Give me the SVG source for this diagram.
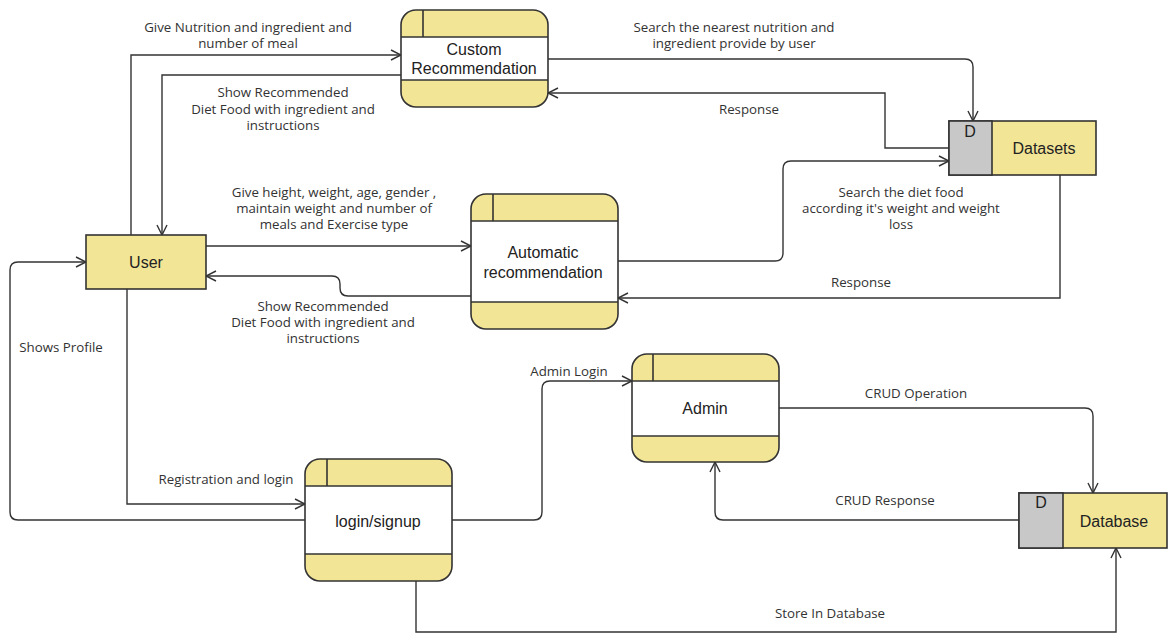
<svg xmlns="http://www.w3.org/2000/svg" width="1172" height="633" viewBox="0 0 1172 633">
<defs>
<marker id="arr" viewBox="0 0 12 12" refX="11" refY="6" markerWidth="12" markerHeight="12" markerUnits="userSpaceOnUse" orient="auto">
<path d="M1,1 L11,6 L1,11" fill="none" stroke="#333" stroke-width="1.4"/>
</marker>
<style>
.bg{fill:#F2E596;stroke:none}
.band{fill:#fff;stroke:none}
.ol{fill:none;stroke:#333;stroke-width:1.6}
.ln{stroke:#333;stroke-width:1.6}
.ent{fill:#F2E596;stroke:#333;stroke-width:1.6}
.dd{fill:#C8C8C8;stroke:#333;stroke-width:1.6}
.nt{font-family:"Liberation Sans",Arial,sans-serif;font-size:16px;fill:#222;text-anchor:middle;dominant-baseline:central}
.lb{font-family:"Open Sans","Noto Sans",sans-serif;font-size:13.3px;fill:#333;text-anchor:middle;dominant-baseline:central}
.c{fill:none;stroke:#333;stroke-width:1.4;marker-end:url(#arr)}
</style>
</defs>
<rect width="1172" height="633" fill="#fff"/>

<g id="connectors">
<path class="c" d="M131,235 V55 H401"/>
<path class="c" d="M401,75 H162 V235"/>
<path class="c" d="M548,59 H965 Q973,59 973,67 V121"/>
<path class="c" d="M949,148 H885 V93 H548"/>
<path class="c" d="M206,246 H471"/>
<path class="c" d="M471,296 H348 Q340,296 340,288 V284 Q340,276 332,276 H206"/>
<path class="c" d="M618,261 H775 Q783,261 783,253 V169 Q783,161 791,161 H949"/>
<path class="c" d="M1060,175 V298 H618"/>
<path class="c" d="M127,289 V504 H305"/>
<path class="c" d="M305,520 H18 Q10,520 10,512 V270 Q10,262 18,262 H86"/>
<path class="c" d="M452,520 H534 Q542,520 542,512 V389 Q542,381 550,381 H632"/>
<path class="c" d="M779,408 H1085 Q1093,408 1093,416 V493"/>
<path class="c" d="M1019,520 H723 Q715,520 715,512 V462"/>
<path class="c" d="M416,581 V632 H1116 V548"/>
</g>

<g id="labels">
<text class="lb" x="248" y="27">Give Nutrition and ingredient and</text>
<text class="lb" x="248" y="43">number of meal</text>
<text class="lb" x="283" y="92">Show Recommended</text>
<text class="lb" x="283" y="109">Diet Food with ingredient and</text>
<text class="lb" x="283" y="125">instructions</text>
<text class="lb" x="734" y="27">Search the nearest nutrition and</text>
<text class="lb" x="734" y="43">ingredient provide by user</text>
<text class="lb" x="749" y="109">Response</text>
<text class="lb" x="334" y="192">Give height, weight, age, gender ,</text>
<text class="lb" x="334" y="208">maintain weight and number of</text>
<text class="lb" x="334" y="224">meals and Exercise type</text>
<text class="lb" x="323" y="306">Show Recommended</text>
<text class="lb" x="323" y="322">Diet Food with ingredient and</text>
<text class="lb" x="323" y="338">instructions</text>
<text class="lb" x="901" y="192">Search the diet food</text>
<text class="lb" x="901" y="208">according it's weight and weight</text>
<text class="lb" x="901" y="224">loss</text>
<text class="lb" x="861" y="282">Response</text>
<text class="lb" x="61" y="347">Shows Profile</text>
<text class="lb" x="226" y="479">Registration and login</text>
<text class="lb" x="569" y="371">Admin Login</text>
<text class="lb" x="916" y="393">CRUD Operation</text>
<text class="lb" x="885" y="500">CRUD Response</text>
<text class="lb" x="830" y="613">Store In Database</text>
</g>

<g id="custom-recommendation">
<rect class="bg" x="401" y="10" width="147" height="97" rx="15"/>
<rect class="band" x="401" y="37" width="147" height="43"/>
<rect class="ol" x="401" y="10" width="147" height="97" rx="15"/>
<line class="ln" x1="401" y1="37" x2="548" y2="37"/>
<line class="ln" x1="401" y1="80" x2="548" y2="80"/>
<line class="ln" x1="423" y1="10" x2="423" y2="37"/>
<text class="nt" x="474" y="49">Custom</text>
<text class="nt" x="474" y="68">Recommendation</text>
</g>

<g id="automatic-recommendation">
<rect class="bg" x="471" y="194" width="147" height="135" rx="15"/>
<rect class="band" x="471" y="221" width="147" height="81"/>
<rect class="ol" x="471" y="194" width="147" height="135" rx="15"/>
<line class="ln" x1="471" y1="221" x2="618" y2="221"/>
<line class="ln" x1="471" y1="302" x2="618" y2="302"/>
<line class="ln" x1="493" y1="194" x2="493" y2="221"/>
<text class="nt" x="543" y="252">Automatic</text>
<text class="nt" x="543" y="272">recommendation</text>
</g>

<g id="login-signup">
<rect class="bg" x="305" y="459" width="147" height="122" rx="15"/>
<rect class="band" x="305" y="486" width="147" height="68"/>
<rect class="ol" x="305" y="459" width="147" height="122" rx="15"/>
<line class="ln" x1="305" y1="486" x2="452" y2="486"/>
<line class="ln" x1="305" y1="554" x2="452" y2="554"/>
<line class="ln" x1="327" y1="459" x2="327" y2="486"/>
<text class="nt" x="378" y="521">login/signup</text>
</g>

<g id="admin">
<rect class="bg" x="632" y="354" width="147" height="108" rx="15"/>
<rect class="band" x="632" y="381" width="147" height="55"/>
<rect class="ol" x="632" y="354" width="147" height="108" rx="15"/>
<line class="ln" x1="632" y1="381" x2="779" y2="381"/>
<line class="ln" x1="632" y1="436" x2="779" y2="436"/>
<line class="ln" x1="653" y1="354" x2="653" y2="381"/>
<text class="nt" x="705" y="408">Admin</text>
</g>

<g id="user">
<rect class="ent" x="86" y="235" width="120" height="54"/>
<text class="nt" x="146" y="262">User</text>
</g>

<g id="datasets">
<rect class="ent" x="949" y="121" width="147" height="54"/>
<rect class="dd" x="949" y="121" width="43" height="54"/>
<text class="nt" x="970" y="131">D</text>
<text class="nt" x="1044" y="148">Datasets</text>
</g>

<g id="database">
<rect class="ent" x="1019" y="493" width="148" height="55"/>
<rect class="dd" x="1019" y="493" width="44" height="55"/>
<text class="nt" x="1041" y="502">D</text>
<text class="nt" x="1114" y="521">Database</text>
</g>
</svg>
